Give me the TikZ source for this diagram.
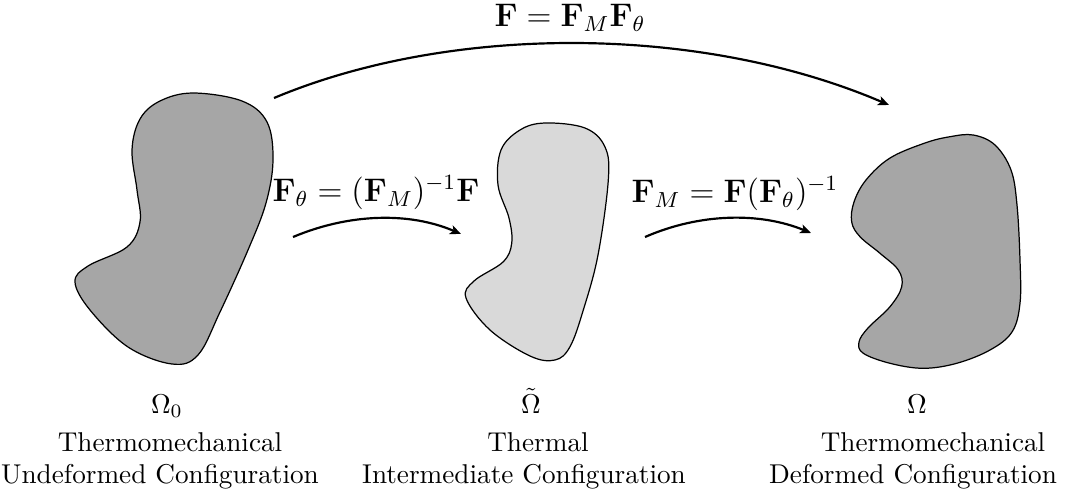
\documentclass[tikz,border=0pt]{standalone}
\usetikzlibrary{arrows.meta}
\definecolor{darkblob}{HTML}{A6A6A6}
\definecolor{lightblob}{HTML}{D9D9D9}
\begin{document}
\begin{tikzpicture}[x=0.3676pt, y=-0.3676pt,
  blobline/.style={draw=black, line width=0.45pt},
  maparrow/.style={line width=0.8pt, -{Stealth[length=4pt,width=3.4pt,inset=1pt]}},
  eqlabel/.style={font=\large, inner sep=0pt, anchor=base},
  txt/.style={inner sep=0pt, anchor=base}]
\useasboundingbox (0,0) rectangle (1073,493);

% left blob (undeformed)
\filldraw[blobline, fill=darkblob] plot[smooth cycle, tension=0.6] coordinates {
 (132,150) (140,119) (160,101) (193,93) (242,101) (267,122) (273,160)
 (266,203) (248,250) (220,312) (198,355) (172,364)
 (128,347) (90,310) (75,282) (88,266) (127,247)
 (140,222) (137,190)};

% middle blob (intermediate)
\filldraw[blobline, fill=lightblob] plot[smooth cycle, tension=0.6] coordinates {
 (545,123) (585,128) (605,147) (608.3,180)
 (598,255) (583.3,310) (570,346.7) (555,360) (530,356)
 (490,330) (466,298) (474,281) (503,262) (511.7,243.3)
 (509,218) (498,185) (501,150) (520,130)};

% right blob (deformed)
\filldraw[blobline, fill=darkblob] plot[smooth cycle, tension=0.6] coordinates {
 (973.3,135) (995,145) (1011,170) (1017,205)
 (1020,260) (1020,303.3) (1012,332) (990,350) (956.7,363.3) (923.3,368.3)
 (890,363.3) (863.3,353.3) (859,342) (868,328) (890,306.7) (901.7,286.7)
 (898.3,270) (880,253.3) (860,236.7) (851.7,222) (854,202) (866,180)
 (890,158) (925,143) (950,136.7)};

% arrow end points
\coordinate (topS) at (274,98);
\coordinate (topE) at (889,105);
\coordinate (leftS) at (293,237);
\coordinate (leftE) at (461,234);
\coordinate (rightS) at (645,237);
\coordinate (rightE) at (811,233);

\draw[maparrow] (topS) .. controls (450,24) and (700,24) .. (topE);
\draw[maparrow] (leftS) .. controls (350,213) and (410,212) .. (leftE);
\draw[maparrow] (rightS) .. controls (700,213) and (760,212) .. (rightE);

% map labels
\node[eqlabel] (Ftop) at (570,26.7) {$\mathbf{F}=\mathbf{F}_M\mathbf{F}_\theta$};
\node[eqlabel] (Fth) at (376,201.7) {$\mathbf{F}_\theta=(\mathbf{F}_M)^{-1}\mathbf{F}$};
\node[eqlabel] (FM) at (735,202.5) {$\mathbf{F}_M=\mathbf{F}(\mathbf{F}_\theta)^{-1}$};

% configuration labels
\node[txt] (om0) at (167,413.3) {$\Omega_0$};
\node[txt] (l1a) at (170,451.7) {Thermomechanical};
\node[txt] (l1b) at (160,483.3) {Undeformed Configuration};

\node[txt] (omt) at (531,413.3) {$\tilde{\Omega}$};
\node[txt] (l2a) at (538,451.7) {Thermal};
\node[txt] (l2b) at (524,483.3) {Intermediate Configuration};

\node[txt] (om) at (917,413.3) {$\Omega$};
\node[txt] (l3a) at (933,451.7) {Thermomechanical};
\node[txt] (l3b) at (913,483.3) {Deformed Configuration};
\end{tikzpicture}
\end{document}
